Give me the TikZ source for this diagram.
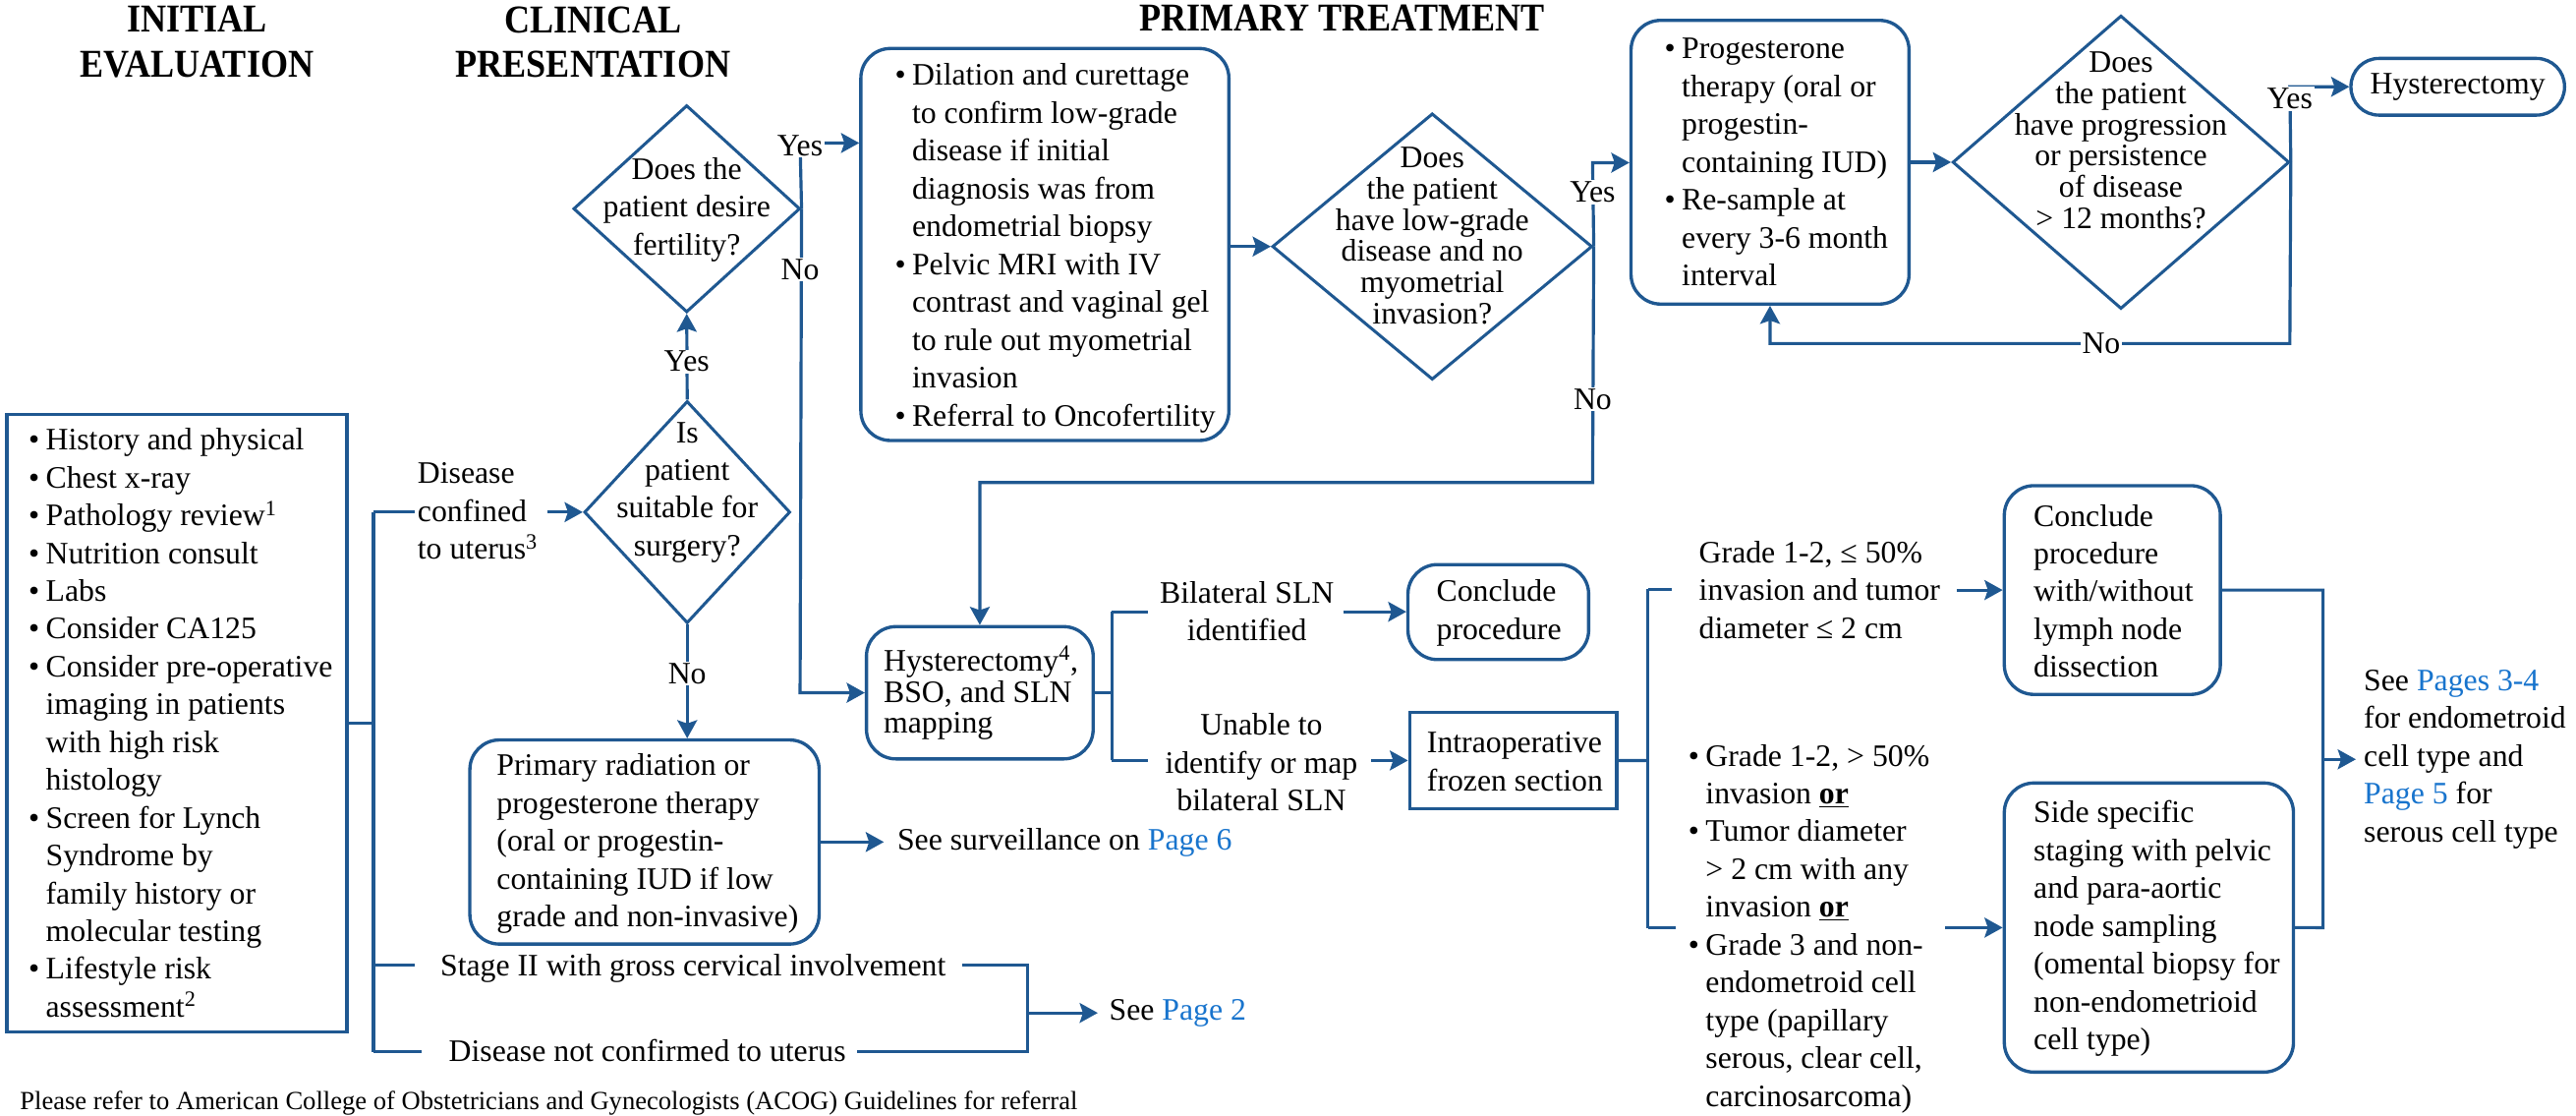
\documentclass[tikz,border=0pt]{standalone}
\usepackage{fontspec}
\setmainfont{Liberation Serif}
\usepackage{graphicx}
\usetikzlibrary{shapes.geometric,arrows.meta,calc}
\definecolor{lc}{HTML}{1F5891}
\definecolor{link}{HTML}{1874CD}
\newcommand{\bi}{\makebox[10.5pt][l]{\textbullet}}
\newcommand{\ci}{\hspace*{10.5pt}}
\newcommand{\hdr}[1]{\scalebox{0.9}[1]{#1}}
\newcommand{\bodyf}{\fontsize{19}{23}\selectfont}
\newcommand{\tightf}{\fontsize{19}{19}\selectfont}
\begin{document}
\begin{tikzpicture}[x=1pt,y=-1pt,
  ln/.style={draw=lc,line width=1.9pt},
  arr/.style={draw=lc,line width=1.9pt,-{Stealth[length=11pt,width=12pt,inset=2pt]}},
  sbox/.style={draw=lc,line width=2pt,inner sep=0pt},
  rbox/.style={draw=lc,line width=2pt,inner sep=0pt,rounded corners=18pt},
  dia/.style={draw=lc,line width=1.8pt,diamond,inner sep=0pt},
  txt/.style={inner sep=0pt,align=left,font=\bodyf},
  dtxt/.style={inner sep=0pt,align=center,font=\bodyf},
  yn/.style={fill=white,inner sep=1pt,font=\bodyf},
  hd/.style={inner sep=0pt,align=center,font={\fontsize{24}{27}\selectfont\bfseries}}]
\useasboundingbox (0,0) rectangle (1568,679);

% headers
\node[hd] (h1) at (120,25.5) {\hdr{INITIAL}\\\hdr{EVALUATION}};
\node[hd] (h2) at (361,25.5) {\hdr{CLINICAL}\\\hdr{PRESENTATION}};
\node[hd] (h3) at (817,11) {\hdr{PRIMARY TREATMENT}};

% boxes
\node[sbox,minimum width=207.1pt,minimum height=375.7pt] (ie) at (107.65,439.85) {};
\node[txt,anchor=west] (iet) at (17.2,439.8) {\bi History and physical\\ \bi Chest x-ray\\ \bi Pathology review\textsuperscript{1}\\ \bi Nutrition consult\\ \bi Labs\\ \bi Consider CA125\\ \bi Consider pre-operative\\ \ci imaging in patients\\ \ci with high risk\\ \ci histology\\ \bi Screen for Lynch\\ \ci Syndrome by\\ \ci family history or\\ \ci molecular testing\\ \bi Lifestyle risk\\ \ci assessment\textsuperscript{2}};

\node[rbox,minimum width=224pt,minimum height=238.5pt] (dc) at (636,148.75) {};
\node[txt,anchor=west] (dct) at (544.5,151) {\bi Dilation and curettage\\ \ci to confirm low-grade\\ \ci disease if initial\\ \ci diagnosis was from\\ \ci endometrial biopsy\\ \bi Pelvic MRI with IV\\ \ci contrast and vaginal gel\\ \ci to rule out myometrial\\ \ci invasion\\ \bi Referral to Oncofertility};

\node[rbox,minimum width=169.2pt,minimum height=172.6pt] (prog) at (1077.4,98.7) {};
\node[txt,anchor=west] (progt) at (1013,98.7) {\bi Progesterone\\ \ci therapy (oral or\\ \ci progestin-\\ \ci containing IUD)\\ \bi Re-sample at\\ \ci every 3-6 month\\ \ci interval};

\node[rbox,rounded corners=17pt,minimum width=130pt,minimum height=34.5pt,font=\bodyf] (hy) at (1496,52.8) {Hysterectomy};

\node[rbox,minimum width=138pt,minimum height=80.5pt] (hyst) at (596.4,421.5) {};
\node[txt,anchor=west,font=\tightf] (hystt) at (537.7,421.8) {Hysterectomy\textsuperscript{4},\\BSO, and SLN\\mapping};

\node[rbox,minimum width=110pt,minimum height=57.8pt] (conc) at (912,372.4) {};
\node[txt,anchor=west] (conct) at (874.2,373) {Conclude\\procedure};

\node[sbox,minimum width=126pt,minimum height=58.5pt] (fz) at (921,462.75) {};
\node[txt,anchor=west] (fzt) at (868.4,463.4) {Intraoperative\\frozen section};

\node[rbox,minimum width=131.5pt,minimum height=127pt] (cw) at (1285.75,359) {};
\node[txt,anchor=west] (cwt) at (1237.7,359.6) {Conclude\\procedure\\with/without\\lymph node\\dissection};

\node[rbox,minimum width=176pt,minimum height=175.9pt] (sb) at (1308,564.35) {};
\node[txt,anchor=west] (sbt) at (1237.7,565) {Side specific\\staging with pelvic\\and para-aortic\\node sampling\\(omental biopsy for\\non-endometrioid\\cell type)};

\node[rbox,minimum width=212.6pt,minimum height=124.2pt] (prim) at (392.3,512.3) {};
\node[txt,anchor=west] (primt) at (302.2,513.4) {Primary radiation or\\progesterone therapy\\(oral or progestin-\\containing IUD if low\\grade and non-invasive)};

% diamonds
\node[dia,minimum width=138pt,minimum height=126pt] (fert) at (418,127) {};
\node[dtxt] (fertt) at (418,127.6) {Does the\\patient desire\\fertility?};
\node[dia,minimum width=125.4pt,minimum height=135.2pt] (suit) at (418.3,311.6) {};
\node[dtxt] (suitt) at (418.3,299.6) {Is\\patient\\suitable for\\surgery?};
\node[dia,minimum width=194.8pt,minimum height=162pt] (lg) at (871.8,150) {};
\node[dtxt,font=\tightf] (lgt) at (871.8,143.5) {Does\\the patient\\have low-grade\\disease and no\\myometrial\\invasion?};
\node[dia,minimum width=205pt,minimum height=178.5pt] (pg) at (1291,98.7) {};
\node[dtxt,font=\tightf] (pgt) at (1291,85.5) {Does\\the patient\\have progression\\or persistence\\of disease\\> 12 months?};

% labels
\node[txt,anchor=west] (dcf) at (254,311) {Disease\\confined\\to uterus\textsuperscript{3}};
\node[txt,anchor=west] (st2) at (267.9,589) {Stage II with gross cervical involvement};
\node[txt,anchor=west] (dnc) at (273,639) {Disease not confirmed to uterus};
\node[txt,anchor=west,inner xsep=6.8pt] (sp2) at (668.2,616.3) {See \textcolor{link}{Page 2}};
\node[txt,anchor=west,inner xsep=8pt] (ss) at (538,512.7) {See surveillance on \textcolor{link}{Page 6}};
\node[dtxt] (bsl) at (759,372) {Bilateral SLN\\identified};
\node[dtxt] (ul) at (767.8,463.8) {Unable to\\identify or map\\bilateral SLN};
\node[txt,anchor=west] (g1) at (1034,359) {Grade 1-2, ≤ 50\%\\invasion and tumor\\diameter ≤ 2 cm};
\node[txt,anchor=west] (g2) at (1027.5,565) {\bi Grade 1-2, > 50\%\\ \ci invasion \textbf{\underline{or}}\\ \bi Tumor diameter\\ \ci > 2 cm with any\\ \ci invasion \textbf{\underline{or}}\\ \bi Grade 3 and non-\\ \ci endometroid cell\\ \ci type (papillary\\ \ci serous, clear cell,\\ \ci carcinosarcoma)};
\node[txt,anchor=west,inner xsep=4.7pt] (sp34) at (1434,462) {See \textcolor{link}{Pages 3-4}\\for endometroid\\cell type and\\\textcolor{link}{Page 5} for\\serous cell type};
\node[txt,anchor=west,font=\fontsize{15.9}{18}\selectfont] (foot) at (12,671) {Please refer to American College of Obstetricians and Gynecologists (ACOG) Guidelines for referral};

% initial evaluation trunk
\coordinate (t1) at (227.3,311.6);
\coordinate (t2) at (227.3,587.4);
\coordinate (t3) at (227.3,640);
\draw[ln] (t1) -- (t3);
\draw[ln] (ie.east) -- (ie.east -| t1);
\coordinate (b1e) at (252.4,311.6);
\coordinate (b1a) at (333,311.6);
\draw[ln] (t1) -- (b1e);
\draw[arr] (b1a) -- (suit.west);
\coordinate (b2e) at (252.4,587.4);
\draw[ln] (t2) -- (b2e);
\coordinate (b3e) at (256.9,640);
\draw[ln] (t3) -- (b3e);
\coordinate (k1) at (585.8,587.4);
\coordinate (k2) at (625.3,587.4);
\coordinate (k3) at (625.3,640);
\coordinate (k4) at (521.5,640);
\draw[ln] (k1) -- (k2) -- (k3) -- (k4);
\coordinate (km) at (625.3,616.3);
\draw[arr] (km) -- (sp2.west);
\draw[arr] (prim.east) -- (prim.east -| ss.west);

% clinical presentation
\coordinate (fy) at (487,87);
\draw[arr] (fert.east) -- (fy) -- (fy -| dc.west);
\coordinate (fn) at (487,421.5);
\draw[arr] (fert.east) -- (fn) -- (hyst.west);
\node[yn] (fyes) at (487,88.7) {Yes};
\node[yn] (fno) at (487,164) {No};
\draw[arr] (suit.north) -- (fert.south);
\node[yn] (syes) at (418,220) {Yes};
\draw[arr] (suit.south) -- (suit.south |- prim.north);
\node[yn] (sno) at (418.3,409.8) {No};

% primary treatment
\draw[arr] (dc.east |- lg.west) -- (lg.west);
\coordinate (ly) at (969.4,99);
\draw[arr] (lg.east) -- (ly) -- (ly -| prog.west);
\coordinate (ln1) at (969.4,293.6);
\draw[arr] (lg.east) -- (ln1) -- (ln1 -| hyst.north) -- (hyst.north);
\node[yn] (lyes) at (969.4,117) {Yes};
\node[yn] (lno) at (969.4,243) {No};
\draw[arr] (prog.east) -- (pg.west);
\coordinate (py) at (1393.8,52.8);
\draw[arr] (pg.east) -- (py) -- (hy.west);
\coordinate (pn) at (1393.8,209);
\draw[arr] (pg.east) -- (pn) -- (pn -| prog.south) -- (prog.south);
\node[yn] (pyes) at (1393.8,60) {Yes};
\node[yn] (pno) at (1279,209) {No};

% hysterectomy branches
\coordinate (hb) at (676.8,421.5);
\coordinate (hb1) at (676.8,372.2);
\coordinate (hb2) at (676.8,462.7);
\draw[ln] (hyst.east) -- (hb);
\draw[ln] (hb1) -- (hb2);
\coordinate (hb1e) at (699,372.2);
\draw[ln] (hb1) -- (hb1e);
\coordinate (bsla) at (817.6,372.2);
\draw[arr] (bsla) -- (bsla -| conc.west);
\coordinate (hb2e) at (699,462.7);
\draw[ln] (hb2) -- (hb2e);
\coordinate (ula) at (834.7,462.7);
\draw[arr] (ula) -- (ula -| fz.west);

% frozen section branches
\coordinate (fb) at (1003,462.7);
\coordinate (fb1) at (1003,358.5);
\coordinate (fb2) at (1003,564.5);
\draw[ln] (fz.east) -- (fb);
\draw[ln] (fb1) -- (fb2);
\coordinate (fb1e) at (1017.8,358.5);
\draw[ln] (fb1) -- (fb1e);
\coordinate (fb2e) at (1020,564.5);
\draw[ln] (fb2) -- (fb2e);
\coordinate (g1a) at (1191,359);
\draw[arr] (g1a) -- (g1a -| cw.west);
\coordinate (g2a) at (1184,564.4);
\draw[arr] (g2a) -- (g2a -| sb.west);

% right bracket
\coordinate (r1) at (1414,359);
\coordinate (r2) at (1414,564.4);
\coordinate (rm) at (1414,462);
\draw[ln] (cw.east) -- (r1) -- (r2) -- (sb.east);
\draw[arr] (rm) -- (sp34.west);
\end{tikzpicture}
\end{document}
